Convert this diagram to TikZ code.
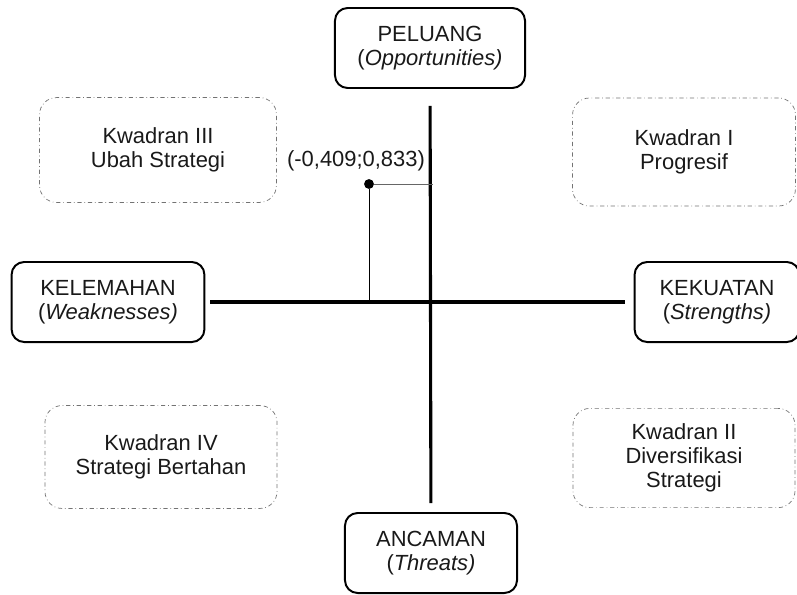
\documentclass[tikz,border=0pt]{standalone}
\usepackage{fontspec}
\setmainfont{Liberation Sans}
\usepackage{tikz}

\tikzset{
	mainbox/.style={draw, line width=1.4pt, rounded corners=9pt, align=center, inner sep=0pt},
	kwbox/.style={draw=black!55, line width=0.5pt, dash dot, rounded corners=12pt, align=center, inner sep=0pt},
	axis/.style={line width=2.2pt},
	thin line/.style={line width=0.6pt}
}

\begin{document}
\begin{tikzpicture}[x=0.025cm, y=-0.025cm, font=\fontsize{15.6}{17.2}\selectfont, text=black!90]
	\useasboundingbox (0,0) rectangle (797,594);
	\node (peluang) at (430, 48) [mainbox, minimum width=4.75cm, minimum height=2cm] {PELUANG\\(\textit{Opportunities)}};
	\node (kelemahan) at (108, 302) [mainbox, minimum width=4.82cm, minimum height=2cm] {KELEMAHAN\\(\textit{Weaknesses)}};
	\node (kekuatan) at (717, 302) [mainbox, minimum width=4.12cm, minimum height=2cm] {KEKUATAN\\(\textit{Strengths)}};
	\node (ancaman) at (431, 553) [mainbox, minimum width=4.3cm, minimum height=2cm] {ANCAMAN\\(\textit{Threats)}};
		\node (kw3) at (158, 150) [kwbox, minimum width=5.92cm, minimum height=2.62cm] {Kwadran III\\Ubah Strategi};
		\node (kw1) at (684, 152) [kwbox, minimum width=5.57cm, minimum height=2.7cm] {Kwadran I\\Progresif};
		\node (kw4) at (161, 457) [kwbox, minimum width=5.8cm, minimum height=2.57cm] {Kwadran IV\\Strategi Bertahan};
		\node (kw2) at (684, 458) [kwbox, minimum width=5.55cm, minimum height=2.48cm] {Kwadran II\\Diversifikasi\\Strategi};
	\draw[axis, shorten <=0.42cm, shorten >=0.22cm] (peluang) to (ancaman);
	\draw[axis, shorten <=0.12cm, shorten >=0.22cm] (kelemahan) to (kekuatan);
			\node[fill, circle, inner sep=0pt, minimum size=7pt] (titik) at (369, 184) {};
			\coordinate (sumbuy) at (433, 184);
			\coordinate (sumbux) at (369, 302);
			\node (nilai) at (356, 161) {(-0,409;0,833)};
	\draw[thin line, draw=black!60] (titik) to (sumbuy);
	\draw[thin line] (titik) to (sumbux);
	\end{tikzpicture}
\end{document}
